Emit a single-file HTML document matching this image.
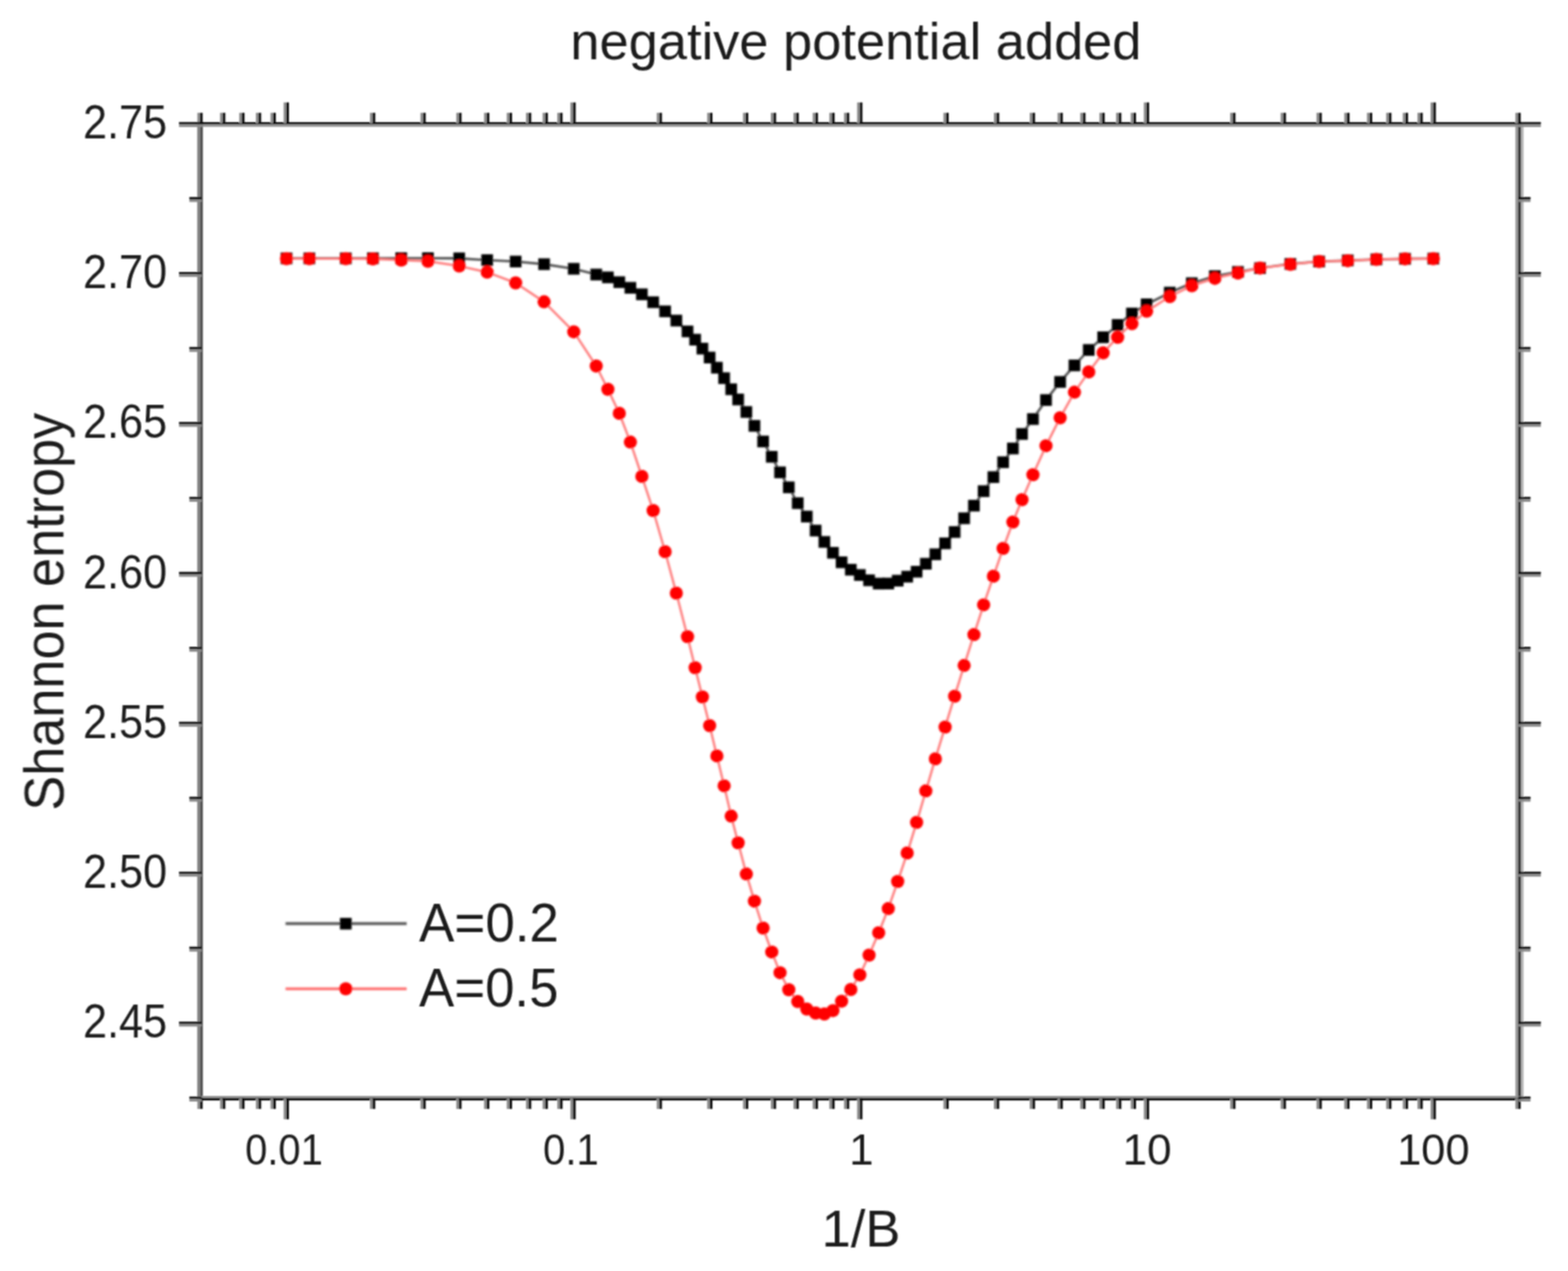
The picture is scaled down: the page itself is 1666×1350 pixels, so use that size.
<!DOCTYPE html>
<html><head><meta charset="utf-8"><title>negative potential added</title>
<style>html,body{margin:0;padding:0;background:#fff;}svg{display:block;}</style></head>
<body><svg width="1666" height="1350" viewBox="0 0 1666 1350" font-family="'Liberation Sans', Arial, sans-serif">
<defs><filter id="soft" x="0" y="0" width="1666" height="1350" filterUnits="userSpaceOnUse"><feConvolveMatrix order="5" kernelMatrix="1 4 6 4 1 4 16 24 16 4 6 24 36 24 6 4 16 24 16 4 1 4 6 4 1" divisor="256" edgeMode="duplicate"/></filter><filter id="softt" x="0" y="0" width="1666" height="1350" filterUnits="userSpaceOnUse"><feConvolveMatrix order="3" kernelMatrix="1 2 1 2 4 2 1 2 1" divisor="16" edgeMode="duplicate"/></filter></defs>
<rect width="1666" height="1350" fill="#fff"/>
<g filter="url(#softt)">
<rect x="209.59" y="129.70" width="3.00" height="1038.26" fill="#7f7f7f"/>
<rect x="212.59" y="129.70" width="2.90" height="1038.26" fill="#4a4a4a"/>
<rect x="1610.11" y="129.70" width="2.80" height="1038.26" fill="#9a9a9a"/>
<rect x="1612.91" y="129.70" width="3.20" height="1038.26" fill="#3a3a3a"/>
<rect x="1616.11" y="129.70" width="2.60" height="1038.26" fill="#b0b0b0"/>
<rect x="209.59" y="129.80" width="1406.62" height="2.40" fill="#000"/>
<rect x="209.59" y="132.20" width="1406.62" height="2.40" fill="#8c8c8c"/>
<rect x="209.59" y="1164.06" width="1406.62" height="2.20" fill="#909090"/>
<rect x="209.59" y="1166.26" width="1406.62" height="2.50" fill="#000"/>
<rect x="209.69" y="119.80" width="2.80" height="11.50" fill="#8a8a8a"/>
<rect x="212.49" y="119.80" width="2.80" height="11.50" fill="#111"/>
<rect x="209.69" y="1166.36" width="2.80" height="11.50" fill="#8a8a8a"/>
<rect x="212.49" y="1166.36" width="2.80" height="11.50" fill="#111"/>
<rect x="233.81" y="119.80" width="2.80" height="11.50" fill="#8a8a8a"/>
<rect x="236.61" y="119.80" width="2.80" height="11.50" fill="#111"/>
<rect x="233.81" y="1166.36" width="2.80" height="11.50" fill="#8a8a8a"/>
<rect x="236.61" y="1166.36" width="2.80" height="11.50" fill="#111"/>
<rect x="254.21" y="119.80" width="2.80" height="11.50" fill="#8a8a8a"/>
<rect x="257.01" y="119.80" width="2.80" height="11.50" fill="#111"/>
<rect x="254.21" y="1166.36" width="2.80" height="11.50" fill="#8a8a8a"/>
<rect x="257.01" y="1166.36" width="2.80" height="11.50" fill="#111"/>
<rect x="271.88" y="119.80" width="2.80" height="11.50" fill="#8a8a8a"/>
<rect x="274.68" y="119.80" width="2.80" height="11.50" fill="#111"/>
<rect x="271.88" y="1166.36" width="2.80" height="11.50" fill="#8a8a8a"/>
<rect x="274.68" y="1166.36" width="2.80" height="11.50" fill="#111"/>
<rect x="287.46" y="119.80" width="2.80" height="11.50" fill="#8a8a8a"/>
<rect x="290.26" y="119.80" width="2.80" height="11.50" fill="#111"/>
<rect x="287.46" y="1166.36" width="2.80" height="11.50" fill="#8a8a8a"/>
<rect x="290.26" y="1166.36" width="2.80" height="11.50" fill="#111"/>
<rect x="301.40" y="108.80" width="2.80" height="22.50" fill="#8a8a8a"/>
<rect x="304.20" y="108.80" width="2.80" height="22.50" fill="#111"/>
<rect x="301.40" y="1166.36" width="2.80" height="22.50" fill="#8a8a8a"/>
<rect x="304.20" y="1166.36" width="2.80" height="22.50" fill="#111"/>
<rect x="393.11" y="119.80" width="2.80" height="11.50" fill="#8a8a8a"/>
<rect x="395.91" y="119.80" width="2.80" height="11.50" fill="#111"/>
<rect x="393.11" y="1166.36" width="2.80" height="11.50" fill="#8a8a8a"/>
<rect x="395.91" y="1166.36" width="2.80" height="11.50" fill="#111"/>
<rect x="446.75" y="119.80" width="2.80" height="11.50" fill="#8a8a8a"/>
<rect x="449.55" y="119.80" width="2.80" height="11.50" fill="#111"/>
<rect x="446.75" y="1166.36" width="2.80" height="11.50" fill="#8a8a8a"/>
<rect x="449.55" y="1166.36" width="2.80" height="11.50" fill="#111"/>
<rect x="484.82" y="119.80" width="2.80" height="11.50" fill="#8a8a8a"/>
<rect x="487.62" y="119.80" width="2.80" height="11.50" fill="#111"/>
<rect x="484.82" y="1166.36" width="2.80" height="11.50" fill="#8a8a8a"/>
<rect x="487.62" y="1166.36" width="2.80" height="11.50" fill="#111"/>
<rect x="514.34" y="119.80" width="2.80" height="11.50" fill="#8a8a8a"/>
<rect x="517.14" y="119.80" width="2.80" height="11.50" fill="#111"/>
<rect x="514.34" y="1166.36" width="2.80" height="11.50" fill="#8a8a8a"/>
<rect x="517.14" y="1166.36" width="2.80" height="11.50" fill="#111"/>
<rect x="538.46" y="119.80" width="2.80" height="11.50" fill="#8a8a8a"/>
<rect x="541.26" y="119.80" width="2.80" height="11.50" fill="#111"/>
<rect x="538.46" y="1166.36" width="2.80" height="11.50" fill="#8a8a8a"/>
<rect x="541.26" y="1166.36" width="2.80" height="11.50" fill="#111"/>
<rect x="558.86" y="119.80" width="2.80" height="11.50" fill="#8a8a8a"/>
<rect x="561.66" y="119.80" width="2.80" height="11.50" fill="#111"/>
<rect x="558.86" y="1166.36" width="2.80" height="11.50" fill="#8a8a8a"/>
<rect x="561.66" y="1166.36" width="2.80" height="11.50" fill="#111"/>
<rect x="576.53" y="119.80" width="2.80" height="11.50" fill="#8a8a8a"/>
<rect x="579.33" y="119.80" width="2.80" height="11.50" fill="#111"/>
<rect x="576.53" y="1166.36" width="2.80" height="11.50" fill="#8a8a8a"/>
<rect x="579.33" y="1166.36" width="2.80" height="11.50" fill="#111"/>
<rect x="592.11" y="119.80" width="2.80" height="11.50" fill="#8a8a8a"/>
<rect x="594.91" y="119.80" width="2.80" height="11.50" fill="#111"/>
<rect x="592.11" y="1166.36" width="2.80" height="11.50" fill="#8a8a8a"/>
<rect x="594.91" y="1166.36" width="2.80" height="11.50" fill="#111"/>
<rect x="606.05" y="108.80" width="2.80" height="22.50" fill="#8a8a8a"/>
<rect x="608.85" y="108.80" width="2.80" height="22.50" fill="#111"/>
<rect x="606.05" y="1166.36" width="2.80" height="22.50" fill="#8a8a8a"/>
<rect x="608.85" y="1166.36" width="2.80" height="22.50" fill="#111"/>
<rect x="697.76" y="119.80" width="2.80" height="11.50" fill="#8a8a8a"/>
<rect x="700.56" y="119.80" width="2.80" height="11.50" fill="#111"/>
<rect x="697.76" y="1166.36" width="2.80" height="11.50" fill="#8a8a8a"/>
<rect x="700.56" y="1166.36" width="2.80" height="11.50" fill="#111"/>
<rect x="751.40" y="119.80" width="2.80" height="11.50" fill="#8a8a8a"/>
<rect x="754.20" y="119.80" width="2.80" height="11.50" fill="#111"/>
<rect x="751.40" y="1166.36" width="2.80" height="11.50" fill="#8a8a8a"/>
<rect x="754.20" y="1166.36" width="2.80" height="11.50" fill="#111"/>
<rect x="789.47" y="119.80" width="2.80" height="11.50" fill="#8a8a8a"/>
<rect x="792.27" y="119.80" width="2.80" height="11.50" fill="#111"/>
<rect x="789.47" y="1166.36" width="2.80" height="11.50" fill="#8a8a8a"/>
<rect x="792.27" y="1166.36" width="2.80" height="11.50" fill="#111"/>
<rect x="818.99" y="119.80" width="2.80" height="11.50" fill="#8a8a8a"/>
<rect x="821.79" y="119.80" width="2.80" height="11.50" fill="#111"/>
<rect x="818.99" y="1166.36" width="2.80" height="11.50" fill="#8a8a8a"/>
<rect x="821.79" y="1166.36" width="2.80" height="11.50" fill="#111"/>
<rect x="843.11" y="119.80" width="2.80" height="11.50" fill="#8a8a8a"/>
<rect x="845.91" y="119.80" width="2.80" height="11.50" fill="#111"/>
<rect x="843.11" y="1166.36" width="2.80" height="11.50" fill="#8a8a8a"/>
<rect x="845.91" y="1166.36" width="2.80" height="11.50" fill="#111"/>
<rect x="863.51" y="119.80" width="2.80" height="11.50" fill="#8a8a8a"/>
<rect x="866.31" y="119.80" width="2.80" height="11.50" fill="#111"/>
<rect x="863.51" y="1166.36" width="2.80" height="11.50" fill="#8a8a8a"/>
<rect x="866.31" y="1166.36" width="2.80" height="11.50" fill="#111"/>
<rect x="881.18" y="119.80" width="2.80" height="11.50" fill="#8a8a8a"/>
<rect x="883.98" y="119.80" width="2.80" height="11.50" fill="#111"/>
<rect x="881.18" y="1166.36" width="2.80" height="11.50" fill="#8a8a8a"/>
<rect x="883.98" y="1166.36" width="2.80" height="11.50" fill="#111"/>
<rect x="896.76" y="119.80" width="2.80" height="11.50" fill="#8a8a8a"/>
<rect x="899.56" y="119.80" width="2.80" height="11.50" fill="#111"/>
<rect x="896.76" y="1166.36" width="2.80" height="11.50" fill="#8a8a8a"/>
<rect x="899.56" y="1166.36" width="2.80" height="11.50" fill="#111"/>
<rect x="910.70" y="108.80" width="2.80" height="22.50" fill="#8a8a8a"/>
<rect x="913.50" y="108.80" width="2.80" height="22.50" fill="#111"/>
<rect x="910.70" y="1166.36" width="2.80" height="22.50" fill="#8a8a8a"/>
<rect x="913.50" y="1166.36" width="2.80" height="22.50" fill="#111"/>
<rect x="1002.41" y="119.80" width="2.80" height="11.50" fill="#8a8a8a"/>
<rect x="1005.21" y="119.80" width="2.80" height="11.50" fill="#111"/>
<rect x="1002.41" y="1166.36" width="2.80" height="11.50" fill="#8a8a8a"/>
<rect x="1005.21" y="1166.36" width="2.80" height="11.50" fill="#111"/>
<rect x="1056.05" y="119.80" width="2.80" height="11.50" fill="#8a8a8a"/>
<rect x="1058.85" y="119.80" width="2.80" height="11.50" fill="#111"/>
<rect x="1056.05" y="1166.36" width="2.80" height="11.50" fill="#8a8a8a"/>
<rect x="1058.85" y="1166.36" width="2.80" height="11.50" fill="#111"/>
<rect x="1094.12" y="119.80" width="2.80" height="11.50" fill="#8a8a8a"/>
<rect x="1096.92" y="119.80" width="2.80" height="11.50" fill="#111"/>
<rect x="1094.12" y="1166.36" width="2.80" height="11.50" fill="#8a8a8a"/>
<rect x="1096.92" y="1166.36" width="2.80" height="11.50" fill="#111"/>
<rect x="1123.64" y="119.80" width="2.80" height="11.50" fill="#8a8a8a"/>
<rect x="1126.44" y="119.80" width="2.80" height="11.50" fill="#111"/>
<rect x="1123.64" y="1166.36" width="2.80" height="11.50" fill="#8a8a8a"/>
<rect x="1126.44" y="1166.36" width="2.80" height="11.50" fill="#111"/>
<rect x="1147.76" y="119.80" width="2.80" height="11.50" fill="#8a8a8a"/>
<rect x="1150.56" y="119.80" width="2.80" height="11.50" fill="#111"/>
<rect x="1147.76" y="1166.36" width="2.80" height="11.50" fill="#8a8a8a"/>
<rect x="1150.56" y="1166.36" width="2.80" height="11.50" fill="#111"/>
<rect x="1168.16" y="119.80" width="2.80" height="11.50" fill="#8a8a8a"/>
<rect x="1170.96" y="119.80" width="2.80" height="11.50" fill="#111"/>
<rect x="1168.16" y="1166.36" width="2.80" height="11.50" fill="#8a8a8a"/>
<rect x="1170.96" y="1166.36" width="2.80" height="11.50" fill="#111"/>
<rect x="1185.83" y="119.80" width="2.80" height="11.50" fill="#8a8a8a"/>
<rect x="1188.63" y="119.80" width="2.80" height="11.50" fill="#111"/>
<rect x="1185.83" y="1166.36" width="2.80" height="11.50" fill="#8a8a8a"/>
<rect x="1188.63" y="1166.36" width="2.80" height="11.50" fill="#111"/>
<rect x="1201.41" y="119.80" width="2.80" height="11.50" fill="#8a8a8a"/>
<rect x="1204.21" y="119.80" width="2.80" height="11.50" fill="#111"/>
<rect x="1201.41" y="1166.36" width="2.80" height="11.50" fill="#8a8a8a"/>
<rect x="1204.21" y="1166.36" width="2.80" height="11.50" fill="#111"/>
<rect x="1215.35" y="108.80" width="2.80" height="22.50" fill="#8a8a8a"/>
<rect x="1218.15" y="108.80" width="2.80" height="22.50" fill="#111"/>
<rect x="1215.35" y="1166.36" width="2.80" height="22.50" fill="#8a8a8a"/>
<rect x="1218.15" y="1166.36" width="2.80" height="22.50" fill="#111"/>
<rect x="1307.06" y="119.80" width="2.80" height="11.50" fill="#8a8a8a"/>
<rect x="1309.86" y="119.80" width="2.80" height="11.50" fill="#111"/>
<rect x="1307.06" y="1166.36" width="2.80" height="11.50" fill="#8a8a8a"/>
<rect x="1309.86" y="1166.36" width="2.80" height="11.50" fill="#111"/>
<rect x="1360.70" y="119.80" width="2.80" height="11.50" fill="#8a8a8a"/>
<rect x="1363.50" y="119.80" width="2.80" height="11.50" fill="#111"/>
<rect x="1360.70" y="1166.36" width="2.80" height="11.50" fill="#8a8a8a"/>
<rect x="1363.50" y="1166.36" width="2.80" height="11.50" fill="#111"/>
<rect x="1398.77" y="119.80" width="2.80" height="11.50" fill="#8a8a8a"/>
<rect x="1401.57" y="119.80" width="2.80" height="11.50" fill="#111"/>
<rect x="1398.77" y="1166.36" width="2.80" height="11.50" fill="#8a8a8a"/>
<rect x="1401.57" y="1166.36" width="2.80" height="11.50" fill="#111"/>
<rect x="1428.29" y="119.80" width="2.80" height="11.50" fill="#8a8a8a"/>
<rect x="1431.09" y="119.80" width="2.80" height="11.50" fill="#111"/>
<rect x="1428.29" y="1166.36" width="2.80" height="11.50" fill="#8a8a8a"/>
<rect x="1431.09" y="1166.36" width="2.80" height="11.50" fill="#111"/>
<rect x="1452.41" y="119.80" width="2.80" height="11.50" fill="#8a8a8a"/>
<rect x="1455.21" y="119.80" width="2.80" height="11.50" fill="#111"/>
<rect x="1452.41" y="1166.36" width="2.80" height="11.50" fill="#8a8a8a"/>
<rect x="1455.21" y="1166.36" width="2.80" height="11.50" fill="#111"/>
<rect x="1472.81" y="119.80" width="2.80" height="11.50" fill="#8a8a8a"/>
<rect x="1475.61" y="119.80" width="2.80" height="11.50" fill="#111"/>
<rect x="1472.81" y="1166.36" width="2.80" height="11.50" fill="#8a8a8a"/>
<rect x="1475.61" y="1166.36" width="2.80" height="11.50" fill="#111"/>
<rect x="1490.48" y="119.80" width="2.80" height="11.50" fill="#8a8a8a"/>
<rect x="1493.28" y="119.80" width="2.80" height="11.50" fill="#111"/>
<rect x="1490.48" y="1166.36" width="2.80" height="11.50" fill="#8a8a8a"/>
<rect x="1493.28" y="1166.36" width="2.80" height="11.50" fill="#111"/>
<rect x="1506.06" y="119.80" width="2.80" height="11.50" fill="#8a8a8a"/>
<rect x="1508.86" y="119.80" width="2.80" height="11.50" fill="#111"/>
<rect x="1506.06" y="1166.36" width="2.80" height="11.50" fill="#8a8a8a"/>
<rect x="1508.86" y="1166.36" width="2.80" height="11.50" fill="#111"/>
<rect x="1520.00" y="108.80" width="2.80" height="22.50" fill="#8a8a8a"/>
<rect x="1522.80" y="108.80" width="2.80" height="22.50" fill="#111"/>
<rect x="1520.00" y="1166.36" width="2.80" height="22.50" fill="#8a8a8a"/>
<rect x="1522.80" y="1166.36" width="2.80" height="22.50" fill="#111"/>
<rect x="1610.11" y="119.80" width="2.80" height="11.50" fill="#8a8a8a"/>
<rect x="1612.91" y="119.80" width="2.80" height="11.50" fill="#111"/>
<rect x="1610.11" y="1166.36" width="2.80" height="11.50" fill="#8a8a8a"/>
<rect x="1612.91" y="1166.36" width="2.80" height="11.50" fill="#111"/>
<rect x="201.19" y="1164.76" width="13.00" height="2.60" fill="#111"/>
<rect x="201.19" y="1167.36" width="13.00" height="2.60" fill="#8a8a8a"/>
<rect x="1613.21" y="1164.76" width="13.00" height="2.60" fill="#111"/>
<rect x="1613.21" y="1167.36" width="13.00" height="2.60" fill="#8a8a8a"/>
<rect x="190.19" y="1085.14" width="24.00" height="2.60" fill="#111"/>
<rect x="190.19" y="1087.74" width="24.00" height="2.60" fill="#8a8a8a"/>
<rect x="1613.21" y="1085.14" width="24.00" height="2.60" fill="#111"/>
<rect x="1613.21" y="1087.74" width="24.00" height="2.60" fill="#8a8a8a"/>
<rect x="201.19" y="1005.52" width="13.00" height="2.60" fill="#111"/>
<rect x="201.19" y="1008.12" width="13.00" height="2.60" fill="#8a8a8a"/>
<rect x="1613.21" y="1005.52" width="13.00" height="2.60" fill="#111"/>
<rect x="1613.21" y="1008.12" width="13.00" height="2.60" fill="#8a8a8a"/>
<rect x="190.19" y="925.90" width="24.00" height="2.60" fill="#111"/>
<rect x="190.19" y="928.50" width="24.00" height="2.60" fill="#8a8a8a"/>
<rect x="1613.21" y="925.90" width="24.00" height="2.60" fill="#111"/>
<rect x="1613.21" y="928.50" width="24.00" height="2.60" fill="#8a8a8a"/>
<rect x="201.19" y="846.28" width="13.00" height="2.60" fill="#111"/>
<rect x="201.19" y="848.88" width="13.00" height="2.60" fill="#8a8a8a"/>
<rect x="1613.21" y="846.28" width="13.00" height="2.60" fill="#111"/>
<rect x="1613.21" y="848.88" width="13.00" height="2.60" fill="#8a8a8a"/>
<rect x="190.19" y="766.66" width="24.00" height="2.60" fill="#111"/>
<rect x="190.19" y="769.26" width="24.00" height="2.60" fill="#8a8a8a"/>
<rect x="1613.21" y="766.66" width="24.00" height="2.60" fill="#111"/>
<rect x="1613.21" y="769.26" width="24.00" height="2.60" fill="#8a8a8a"/>
<rect x="201.19" y="687.04" width="13.00" height="2.60" fill="#111"/>
<rect x="201.19" y="689.64" width="13.00" height="2.60" fill="#8a8a8a"/>
<rect x="1613.21" y="687.04" width="13.00" height="2.60" fill="#111"/>
<rect x="1613.21" y="689.64" width="13.00" height="2.60" fill="#8a8a8a"/>
<rect x="190.19" y="607.42" width="24.00" height="2.60" fill="#111"/>
<rect x="190.19" y="610.02" width="24.00" height="2.60" fill="#8a8a8a"/>
<rect x="1613.21" y="607.42" width="24.00" height="2.60" fill="#111"/>
<rect x="1613.21" y="610.02" width="24.00" height="2.60" fill="#8a8a8a"/>
<rect x="201.19" y="527.80" width="13.00" height="2.60" fill="#111"/>
<rect x="201.19" y="530.40" width="13.00" height="2.60" fill="#8a8a8a"/>
<rect x="1613.21" y="527.80" width="13.00" height="2.60" fill="#111"/>
<rect x="1613.21" y="530.40" width="13.00" height="2.60" fill="#8a8a8a"/>
<rect x="190.19" y="448.18" width="24.00" height="2.60" fill="#111"/>
<rect x="190.19" y="450.78" width="24.00" height="2.60" fill="#8a8a8a"/>
<rect x="1613.21" y="448.18" width="24.00" height="2.60" fill="#111"/>
<rect x="1613.21" y="450.78" width="24.00" height="2.60" fill="#8a8a8a"/>
<rect x="201.19" y="368.56" width="13.00" height="2.60" fill="#111"/>
<rect x="201.19" y="371.16" width="13.00" height="2.60" fill="#8a8a8a"/>
<rect x="1613.21" y="368.56" width="13.00" height="2.60" fill="#111"/>
<rect x="1613.21" y="371.16" width="13.00" height="2.60" fill="#8a8a8a"/>
<rect x="190.19" y="288.94" width="24.00" height="2.60" fill="#111"/>
<rect x="190.19" y="291.54" width="24.00" height="2.60" fill="#8a8a8a"/>
<rect x="1613.21" y="288.94" width="24.00" height="2.60" fill="#111"/>
<rect x="1613.21" y="291.54" width="24.00" height="2.60" fill="#8a8a8a"/>
<rect x="201.19" y="209.32" width="13.00" height="2.60" fill="#111"/>
<rect x="201.19" y="211.92" width="13.00" height="2.60" fill="#8a8a8a"/>
<rect x="1613.21" y="209.32" width="13.00" height="2.60" fill="#111"/>
<rect x="1613.21" y="211.92" width="13.00" height="2.60" fill="#8a8a8a"/>
<rect x="190.19" y="129.70" width="24.00" height="2.60" fill="#111"/>
<rect x="190.19" y="132.30" width="24.00" height="2.60" fill="#8a8a8a"/>
<rect x="1613.21" y="129.70" width="24.00" height="2.60" fill="#111"/>
<rect x="1613.21" y="132.30" width="24.00" height="2.60" fill="#8a8a8a"/>
</g>
<g filter="url(#soft)">
<polyline points="304.40,274.40 328.70,274.40 367.40,274.40 396.20,274.30 426.30,274.20 454.70,274.20 487.90,274.40 517.60,276.30 547.90,277.80 578.10,280.60 609.60,285.50 633.50,291.60 645.90,294.60 658.00,299.70 669.80,305.70 682.00,312.60 694.00,321.00 706.70,330.70 718.60,340.50 730.50,352.00 738.60,360.78 746.30,370.28 754.00,379.77 761.70,390.56 769.40,401.65 776.90,413.46 784.30,424.30 793.00,437.58 801.60,452.34 810.80,468.92 820.00,485.20 828.80,501.72 838.10,517.62 847.60,534.43 857.20,548.68 866.60,563.55 875.90,575.60 885.00,587.16 894.20,597.24 904.00,605.13 913.60,610.74 923.40,616.35 933.60,619.89 943.80,619.82 953.80,616.76 963.90,612.52 973.90,607.25 983.70,598.79 993.80,588.72 1004.20,577.10 1014.30,565.10 1024.40,550.49 1034.80,537.08 1045.10,521.70 1055.50,506.75 1065.80,490.95 1076.20,476.35 1085.90,460.95 1097.50,445.10 1111.40,424.90 1126.40,405.66 1141.60,388.10 1156.80,371.71 1172.10,358.23 1187.50,345.13 1202.70,333.00 1218.30,323.24 1242.90,310.80 1266.30,300.80 1290.80,293.30 1315.30,288.80 1338.80,284.80 1371.00,280.33 1401.60,277.77 1432.00,276.59 1462.40,275.49 1492.90,274.90 1522.90,274.70" fill="none" stroke="#555" stroke-width="2.6" stroke-linejoin="round"/>
<rect x="298.20" y="268.20" width="12.4" height="12.4" fill="#000"/>
<rect x="322.50" y="268.20" width="12.4" height="12.4" fill="#000"/>
<rect x="361.20" y="268.20" width="12.4" height="12.4" fill="#000"/>
<rect x="390.00" y="268.10" width="12.4" height="12.4" fill="#000"/>
<rect x="420.10" y="268.00" width="12.4" height="12.4" fill="#000"/>
<rect x="448.50" y="268.00" width="12.4" height="12.4" fill="#000"/>
<rect x="481.70" y="268.20" width="12.4" height="12.4" fill="#000"/>
<rect x="511.40" y="270.10" width="12.4" height="12.4" fill="#000"/>
<rect x="541.70" y="271.60" width="12.4" height="12.4" fill="#000"/>
<rect x="571.90" y="274.40" width="12.4" height="12.4" fill="#000"/>
<rect x="603.40" y="279.30" width="12.4" height="12.4" fill="#000"/>
<rect x="627.30" y="285.40" width="12.4" height="12.4" fill="#000"/>
<rect x="639.70" y="288.40" width="12.4" height="12.4" fill="#000"/>
<rect x="651.80" y="293.50" width="12.4" height="12.4" fill="#000"/>
<rect x="663.60" y="299.50" width="12.4" height="12.4" fill="#000"/>
<rect x="675.80" y="306.40" width="12.4" height="12.4" fill="#000"/>
<rect x="687.80" y="314.80" width="12.4" height="12.4" fill="#000"/>
<rect x="700.50" y="324.50" width="12.4" height="12.4" fill="#000"/>
<rect x="712.40" y="334.30" width="12.4" height="12.4" fill="#000"/>
<rect x="724.30" y="345.80" width="12.4" height="12.4" fill="#000"/>
<rect x="732.40" y="354.58" width="12.4" height="12.4" fill="#000"/>
<rect x="740.10" y="364.08" width="12.4" height="12.4" fill="#000"/>
<rect x="747.80" y="373.57" width="12.4" height="12.4" fill="#000"/>
<rect x="755.50" y="384.36" width="12.4" height="12.4" fill="#000"/>
<rect x="763.20" y="395.45" width="12.4" height="12.4" fill="#000"/>
<rect x="770.70" y="407.26" width="12.4" height="12.4" fill="#000"/>
<rect x="778.10" y="418.10" width="12.4" height="12.4" fill="#000"/>
<rect x="786.80" y="431.38" width="12.4" height="12.4" fill="#000"/>
<rect x="795.40" y="446.14" width="12.4" height="12.4" fill="#000"/>
<rect x="804.60" y="462.72" width="12.4" height="12.4" fill="#000"/>
<rect x="813.80" y="479.00" width="12.4" height="12.4" fill="#000"/>
<rect x="822.60" y="495.52" width="12.4" height="12.4" fill="#000"/>
<rect x="831.90" y="511.42" width="12.4" height="12.4" fill="#000"/>
<rect x="841.40" y="528.23" width="12.4" height="12.4" fill="#000"/>
<rect x="851.00" y="542.48" width="12.4" height="12.4" fill="#000"/>
<rect x="860.40" y="557.35" width="12.4" height="12.4" fill="#000"/>
<rect x="869.70" y="569.40" width="12.4" height="12.4" fill="#000"/>
<rect x="878.80" y="580.96" width="12.4" height="12.4" fill="#000"/>
<rect x="888.00" y="591.04" width="12.4" height="12.4" fill="#000"/>
<rect x="897.80" y="598.93" width="12.4" height="12.4" fill="#000"/>
<rect x="907.40" y="604.54" width="12.4" height="12.4" fill="#000"/>
<rect x="917.20" y="610.15" width="12.4" height="12.4" fill="#000"/>
<rect x="927.40" y="613.69" width="12.4" height="12.4" fill="#000"/>
<rect x="937.60" y="613.62" width="12.4" height="12.4" fill="#000"/>
<rect x="947.60" y="610.56" width="12.4" height="12.4" fill="#000"/>
<rect x="957.70" y="606.32" width="12.4" height="12.4" fill="#000"/>
<rect x="967.70" y="601.05" width="12.4" height="12.4" fill="#000"/>
<rect x="977.50" y="592.59" width="12.4" height="12.4" fill="#000"/>
<rect x="987.60" y="582.52" width="12.4" height="12.4" fill="#000"/>
<rect x="998.00" y="570.90" width="12.4" height="12.4" fill="#000"/>
<rect x="1008.10" y="558.90" width="12.4" height="12.4" fill="#000"/>
<rect x="1018.20" y="544.29" width="12.4" height="12.4" fill="#000"/>
<rect x="1028.60" y="530.88" width="12.4" height="12.4" fill="#000"/>
<rect x="1038.90" y="515.50" width="12.4" height="12.4" fill="#000"/>
<rect x="1049.30" y="500.55" width="12.4" height="12.4" fill="#000"/>
<rect x="1059.60" y="484.75" width="12.4" height="12.4" fill="#000"/>
<rect x="1070.00" y="470.15" width="12.4" height="12.4" fill="#000"/>
<rect x="1079.70" y="454.75" width="12.4" height="12.4" fill="#000"/>
<rect x="1091.30" y="438.90" width="12.4" height="12.4" fill="#000"/>
<rect x="1105.20" y="418.70" width="12.4" height="12.4" fill="#000"/>
<rect x="1120.20" y="399.46" width="12.4" height="12.4" fill="#000"/>
<rect x="1135.40" y="381.90" width="12.4" height="12.4" fill="#000"/>
<rect x="1150.60" y="365.51" width="12.4" height="12.4" fill="#000"/>
<rect x="1165.90" y="352.03" width="12.4" height="12.4" fill="#000"/>
<rect x="1181.30" y="338.93" width="12.4" height="12.4" fill="#000"/>
<rect x="1196.50" y="326.80" width="12.4" height="12.4" fill="#000"/>
<rect x="1212.10" y="317.04" width="12.4" height="12.4" fill="#000"/>
<rect x="1236.70" y="304.60" width="12.4" height="12.4" fill="#000"/>
<rect x="1260.10" y="294.60" width="12.4" height="12.4" fill="#000"/>
<rect x="1284.60" y="287.10" width="12.4" height="12.4" fill="#000"/>
<rect x="1309.10" y="282.60" width="12.4" height="12.4" fill="#000"/>
<rect x="1332.60" y="278.60" width="12.4" height="12.4" fill="#000"/>
<rect x="1364.80" y="274.13" width="12.4" height="12.4" fill="#000"/>
<rect x="1395.40" y="271.57" width="12.4" height="12.4" fill="#000"/>
<rect x="1425.80" y="270.39" width="12.4" height="12.4" fill="#000"/>
<rect x="1456.20" y="269.29" width="12.4" height="12.4" fill="#000"/>
<rect x="1486.70" y="268.70" width="12.4" height="12.4" fill="#000"/>
<rect x="1516.70" y="268.50" width="12.4" height="12.4" fill="#000"/>
<polyline points="304.40,274.80 328.70,274.80 367.40,274.80 396.20,275.00 426.30,276.20 454.70,277.50 487.90,282.60 517.60,289.10 547.90,300.50 578.10,320.60 609.60,352.40 633.50,388.80 645.90,413.50 658.00,439.00 669.80,469.60 682.00,506.00 694.00,542.20 706.70,586.00 718.60,630.00 730.50,676.20 738.60,709.19 746.30,740.30 754.00,770.69 761.70,802.88 769.40,834.67 776.90,866.83 784.30,895.30 793.00,928.37 801.60,957.14 810.80,985.80 820.00,1011.14 828.80,1033.13 838.10,1051.26 847.60,1063.78 857.20,1071.74 866.60,1075.93 875.90,1077.12 885.00,1073.39 894.20,1063.40 904.00,1050.94 913.60,1035.46 923.40,1014.56 933.60,990.72 943.80,965.09 953.80,936.30 963.90,906.03 973.90,873.57 983.70,840.10 993.80,805.94 1004.20,772.21 1014.30,739.45 1024.40,706.86 1034.80,674.10 1045.10,642.40 1055.50,612.06 1065.80,582.56 1076.20,554.50 1085.90,530.76 1097.50,504.20 1111.40,473.42 1126.40,443.68 1141.60,416.60 1156.80,394.97 1172.10,374.74 1187.50,358.20 1202.70,343.70 1218.30,330.60 1242.90,315.00 1266.30,303.60 1290.80,295.63 1315.30,290.07 1338.80,284.66 1371.00,280.86 1401.60,277.79 1432.00,276.88 1462.40,275.58 1492.90,274.90 1522.90,274.70" fill="none" stroke="#ff8080" stroke-width="2.5" stroke-linejoin="round"/>
<circle cx="304.40" cy="274.80" r="7.0" fill="#ff0000"/>
<circle cx="328.70" cy="274.80" r="7.0" fill="#ff0000"/>
<circle cx="367.40" cy="274.80" r="7.0" fill="#ff0000"/>
<circle cx="396.20" cy="275.00" r="7.0" fill="#ff0000"/>
<circle cx="426.30" cy="276.20" r="7.0" fill="#ff0000"/>
<circle cx="454.70" cy="277.50" r="7.0" fill="#ff0000"/>
<circle cx="487.90" cy="282.60" r="7.0" fill="#ff0000"/>
<circle cx="517.60" cy="289.10" r="7.0" fill="#ff0000"/>
<circle cx="547.90" cy="300.50" r="7.0" fill="#ff0000"/>
<circle cx="578.10" cy="320.60" r="7.0" fill="#ff0000"/>
<circle cx="609.60" cy="352.40" r="7.0" fill="#ff0000"/>
<circle cx="633.50" cy="388.80" r="7.0" fill="#ff0000"/>
<circle cx="645.90" cy="413.50" r="7.0" fill="#ff0000"/>
<circle cx="658.00" cy="439.00" r="7.0" fill="#ff0000"/>
<circle cx="669.80" cy="469.60" r="7.0" fill="#ff0000"/>
<circle cx="682.00" cy="506.00" r="7.0" fill="#ff0000"/>
<circle cx="694.00" cy="542.20" r="7.0" fill="#ff0000"/>
<circle cx="706.70" cy="586.00" r="7.0" fill="#ff0000"/>
<circle cx="718.60" cy="630.00" r="7.0" fill="#ff0000"/>
<circle cx="730.50" cy="676.20" r="7.0" fill="#ff0000"/>
<circle cx="738.60" cy="709.19" r="7.0" fill="#ff0000"/>
<circle cx="746.30" cy="740.30" r="7.0" fill="#ff0000"/>
<circle cx="754.00" cy="770.69" r="7.0" fill="#ff0000"/>
<circle cx="761.70" cy="802.88" r="7.0" fill="#ff0000"/>
<circle cx="769.40" cy="834.67" r="7.0" fill="#ff0000"/>
<circle cx="776.90" cy="866.83" r="7.0" fill="#ff0000"/>
<circle cx="784.30" cy="895.30" r="7.0" fill="#ff0000"/>
<circle cx="793.00" cy="928.37" r="7.0" fill="#ff0000"/>
<circle cx="801.60" cy="957.14" r="7.0" fill="#ff0000"/>
<circle cx="810.80" cy="985.80" r="7.0" fill="#ff0000"/>
<circle cx="820.00" cy="1011.14" r="7.0" fill="#ff0000"/>
<circle cx="828.80" cy="1033.13" r="7.0" fill="#ff0000"/>
<circle cx="838.10" cy="1051.26" r="7.0" fill="#ff0000"/>
<circle cx="847.60" cy="1063.78" r="7.0" fill="#ff0000"/>
<circle cx="857.20" cy="1071.74" r="7.0" fill="#ff0000"/>
<circle cx="866.60" cy="1075.93" r="7.0" fill="#ff0000"/>
<circle cx="875.90" cy="1077.12" r="7.0" fill="#ff0000"/>
<circle cx="885.00" cy="1073.39" r="7.0" fill="#ff0000"/>
<circle cx="894.20" cy="1063.40" r="7.0" fill="#ff0000"/>
<circle cx="904.00" cy="1050.94" r="7.0" fill="#ff0000"/>
<circle cx="913.60" cy="1035.46" r="7.0" fill="#ff0000"/>
<circle cx="923.40" cy="1014.56" r="7.0" fill="#ff0000"/>
<circle cx="933.60" cy="990.72" r="7.0" fill="#ff0000"/>
<circle cx="943.80" cy="965.09" r="7.0" fill="#ff0000"/>
<circle cx="953.80" cy="936.30" r="7.0" fill="#ff0000"/>
<circle cx="963.90" cy="906.03" r="7.0" fill="#ff0000"/>
<circle cx="973.90" cy="873.57" r="7.0" fill="#ff0000"/>
<circle cx="983.70" cy="840.10" r="7.0" fill="#ff0000"/>
<circle cx="993.80" cy="805.94" r="7.0" fill="#ff0000"/>
<circle cx="1004.20" cy="772.21" r="7.0" fill="#ff0000"/>
<circle cx="1014.30" cy="739.45" r="7.0" fill="#ff0000"/>
<circle cx="1024.40" cy="706.86" r="7.0" fill="#ff0000"/>
<circle cx="1034.80" cy="674.10" r="7.0" fill="#ff0000"/>
<circle cx="1045.10" cy="642.40" r="7.0" fill="#ff0000"/>
<circle cx="1055.50" cy="612.06" r="7.0" fill="#ff0000"/>
<circle cx="1065.80" cy="582.56" r="7.0" fill="#ff0000"/>
<circle cx="1076.20" cy="554.50" r="7.0" fill="#ff0000"/>
<circle cx="1085.90" cy="530.76" r="7.0" fill="#ff0000"/>
<circle cx="1097.50" cy="504.20" r="7.0" fill="#ff0000"/>
<circle cx="1111.40" cy="473.42" r="7.0" fill="#ff0000"/>
<circle cx="1126.40" cy="443.68" r="7.0" fill="#ff0000"/>
<circle cx="1141.60" cy="416.60" r="7.0" fill="#ff0000"/>
<circle cx="1156.80" cy="394.97" r="7.0" fill="#ff0000"/>
<circle cx="1172.10" cy="374.74" r="7.0" fill="#ff0000"/>
<circle cx="1187.50" cy="358.20" r="7.0" fill="#ff0000"/>
<circle cx="1202.70" cy="343.70" r="7.0" fill="#ff0000"/>
<circle cx="1218.30" cy="330.60" r="7.0" fill="#ff0000"/>
<circle cx="1242.90" cy="315.00" r="7.0" fill="#ff0000"/>
<circle cx="1266.30" cy="303.60" r="7.0" fill="#ff0000"/>
<circle cx="1290.80" cy="295.63" r="7.0" fill="#ff0000"/>
<circle cx="1315.30" cy="290.07" r="7.0" fill="#ff0000"/>
<circle cx="1338.80" cy="284.66" r="7.0" fill="#ff0000"/>
<circle cx="1371.00" cy="280.86" r="7.0" fill="#ff0000"/>
<circle cx="1401.60" cy="277.79" r="7.0" fill="#ff0000"/>
<circle cx="1432.00" cy="276.88" r="7.0" fill="#ff0000"/>
<circle cx="1462.40" cy="275.58" r="7.0" fill="#ff0000"/>
<circle cx="1492.90" cy="274.90" r="7.0" fill="#ff0000"/>
<circle cx="1522.90" cy="274.70" r="7.0" fill="#ff0000"/>
<line x1="303.4" y1="981.1" x2="432.1" y2="981.1" stroke="#555" stroke-width="3"/>
<rect x="361.20" y="974.90" width="12.4" height="12.4" fill="#000"/>
<line x1="303.4" y1="1050.3" x2="432.1" y2="1050.3" stroke="#ff7070" stroke-width="3"/>
<rect x="360.40" y="1043.30" width="14.0" height="14.0" rx="7.0" fill="#ff0000"/>
</g>
<g fill="#1a1a1a" filter="url(#softt)">
<text x="88.31" y="1102.34" font-size="50" textLength="89.26" lengthAdjust="spacingAndGlyphs" >2.45</text>
<text x="88.31" y="943.10" font-size="50" textLength="89.26" lengthAdjust="spacingAndGlyphs" >2.50</text>
<text x="88.31" y="783.86" font-size="50" textLength="89.26" lengthAdjust="spacingAndGlyphs" >2.55</text>
<text x="88.31" y="624.62" font-size="50" textLength="89.26" lengthAdjust="spacingAndGlyphs" >2.60</text>
<text x="88.31" y="465.38" font-size="50" textLength="89.26" lengthAdjust="spacingAndGlyphs" >2.65</text>
<text x="88.31" y="306.14" font-size="50" textLength="89.26" lengthAdjust="spacingAndGlyphs" >2.70</text>
<text x="88.31" y="146.90" font-size="50" textLength="89.26" lengthAdjust="spacingAndGlyphs" >2.75</text>
<text x="260.51" y="1237.20" font-size="46.5" textLength="82.46" lengthAdjust="spacingAndGlyphs" >0.01</text>
<text x="577.10" y="1237.20" font-size="46.5" textLength="59.14" lengthAdjust="spacingAndGlyphs" >0.1</text>
<text x="1192.65" y="1237.20" font-size="46.5" textLength="52.13" lengthAdjust="spacingAndGlyphs" >10</text>
<text x="1484.40" y="1237.20" font-size="46.5" textLength="77.19" lengthAdjust="spacingAndGlyphs" >100</text>
<text x="902.14" y="1237.2" font-size="46.5">1</text>
<text x="606.10" y="62.80" font-size="55.5" textLength="606.68" lengthAdjust="spacingAndGlyphs" >negative potential added</text>
<text x="873.04" y="1324.30" font-size="56" textLength="83.60" lengthAdjust="spacingAndGlyphs" >1/B</text>
<text transform="translate(67.4,0) rotate(-90)" x="-861.07" y="0" font-size="59.5" textLength="422.67" lengthAdjust="spacingAndGlyphs">Shannon entropy</text>
<text x="445.30" y="1000.40" font-size="58" textLength="148.58" lengthAdjust="spacingAndGlyphs" >A=0.2</text>
<text x="445.30" y="1069.00" font-size="58" textLength="148.01" lengthAdjust="spacingAndGlyphs" >A=0.5</text>
</g>
</svg></body></html>
